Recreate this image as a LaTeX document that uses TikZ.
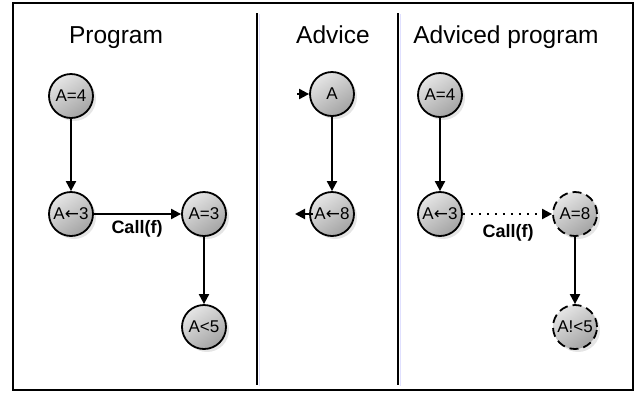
\documentclass[tikz,border=0pt]{standalone}
\usepackage{fontspec}
\setmainfont{Liberation Sans}
\newfontfamily\arrfont{DejaVu Sans}
\newcommand{\lar}{{\arrfont ←}}
\usetikzlibrary{arrows.meta,shadows}
\begin{document}
\begin{tikzpicture}[x=1pt,y=-1pt,
  stnode/.style={circle,draw=black,line width=1.8pt,minimum size=44pt,inner sep=0pt,
    top color=gray!20,bottom color=gray!72,shading angle=35,
    drop shadow={shadow xshift=3pt,shadow yshift=-3pt,fill=gray!40,opacity=0.5},
    font=\fontsize{17}{18}\selectfont},
  dashnode/.style={stnode,dash pattern=on 9pt off 5pt},
  arr/.style={line width=2pt,-{Triangle[length=10pt,width=10pt]}},
  dotarr/.style={arr,dash pattern=on 2pt off 6pt},
  title/.style={anchor=base,font=\fontsize{24.5}{26}\selectfont},
  lbl/.style={font=\bfseries\fontsize{18}{19}\selectfont},
  divider/.style={line width=2pt}]
\useasboundingbox (0,0) rectangle (638,392);
\draw[line width=2.4pt] (13,3) rectangle (633,390);
% dividers
\draw[line width=1pt,blue!12] (259.5,14) -- (259.5,386);
\draw[divider] (257,13) -- (257,385);
\draw[line width=1pt,blue!12] (400.5,14) -- (400.5,386);
\draw[divider] (398,13) -- (398,385);
% titles
\node[title] (t1) at (116,43) {Program};
\node[title] (t2) at (333,43) {Advice};
\node[title] (t3) at (506,43) {Adviced program};
% program
\node[stnode] (p1) at (71,96) {A=4};
\node[stnode] (p2) at (71,214) {A\lar3};
\node[stnode] (p3) at (204,214) {A=3};
\node[stnode] (p4) at (204,327) {A<5};
\draw[arr] (p1) -- (p2);
\draw[arr] (p2) -- (p3);
\draw[arr] (p3) -- (p4);
\node[lbl] (c1) at (137,229) {Call(f)};
% advice
\node[stnode] (a1) at (332,94) {A};
\node[stnode] (a2) at (332,214) {A\lar8};
\coordinate (ain) at (297,94);
\coordinate (aout) at (295,214);
\draw[arr] (ain) -- (a1.west);
\draw[arr] (a1) -- (a2);
\draw[arr] ([xshift=4pt]a2.west) -- (aout);
% adviced program
\node[stnode] (b1) at (440,95) {A=4};
\node[stnode] (b2) at (440,214) {A\lar3};
\node[dashnode] (b3) at (575,214) {A=8};
\node[dashnode] (b4) at (575,327) {A!<5};
\draw[arr] (b1) -- (b2);
\draw[dotarr] (b2) -- (b3);
\draw[arr] (b3) -- (b4);
\node[lbl] (c2) at (508,233) {Call(f)};
\end{tikzpicture}
\end{document}
